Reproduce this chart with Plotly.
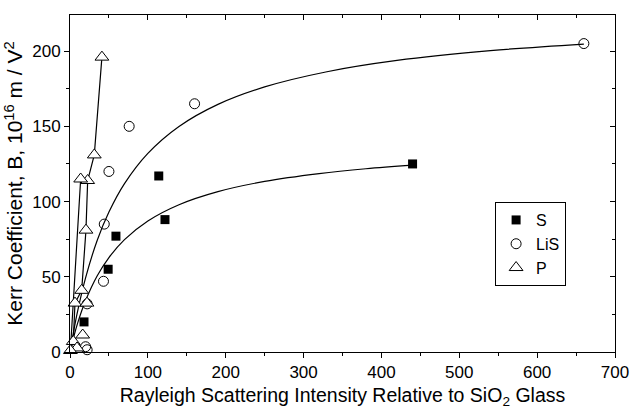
import plotly.graph_objects as go

# ---- data ----
S_x = [440, 114, 122, 59, 49, 18]
S_y = [125, 117, 88, 77, 55, 20]

LiS_x = [660, 160, 76, 50, 44, 43, 22, 20, 22]
LiS_y = [205, 165, 150, 120, 85, 47, 32, 3.5, 1.5]

P_x = [41, 31.2, 22.7, 13.7, 20.5, 15, 6.4, 21.8, 16.3, 4.2, 9, 0.5]
P_y = [196, 131, 114, 115, 81, 41, 32.5, 32.5, 11.3, 7, 2.7, 1]
# indices of P points joined by the connecting line
P_line_idx = [0, 1, 2, 4, 5, 6, 9, 11, 3]

# fitted saturation curves
S_fit_x = [0, 5, 10, 20, 35, 50, 70, 100, 140, 190, 250, 320, 380, 440]
S_fit_y = [0, 10.4, 19.5, 34.2, 50.7, 62.8, 74.7, 87.1, 97.9, 106.6, 113.4, 118.6, 121.8, 124.2]
LiS_fit_x = [0, 5, 10, 20, 35, 50, 70, 100, 140, 190, 250, 330, 420, 540, 660]
LiS_fit_y = [0, 14.7, 27.7, 49.3, 74.3, 93.0, 111.9, 132.0, 149.9, 164.6, 176.2, 186.3, 193.8, 200.3, 204.7]

x_ticks = [0, 100, 200, 300, 400, 500, 600, 700]
y_ticks = [0, 50, 100, 150, 200]

FONT = "Liberation Sans, Arial, sans-serif"
fig = go.Figure()

line_style = dict(color="black", width=1.2)
fig.add_trace(go.Scatter(x=S_fit_x, y=S_fit_y, mode="lines", line=dict(shape="spline", **line_style),
                         showlegend=False, hoverinfo="skip", cliponaxis=False))
fig.add_trace(go.Scatter(x=LiS_fit_x, y=LiS_fit_y, mode="lines", line=dict(shape="spline", **line_style),
                         showlegend=False, hoverinfo="skip", cliponaxis=False))
fig.add_trace(go.Scatter(x=[P_x[i] for i in P_line_idx], y=[P_y[i] for i in P_line_idx],
                         mode="lines", line=line_style, showlegend=False, cliponaxis=False))

fig.add_trace(go.Scatter(x=S_x, y=S_y, mode="markers", name="S", cliponaxis=False,
                         marker=dict(symbol="square", size=9, color="black", line=dict(width=0))))
fig.add_trace(go.Scatter(x=LiS_x, y=LiS_y, mode="markers", name="LiS", cliponaxis=False,
                         marker=dict(symbol="circle-open", size=10, color="black", line=dict(width=1))))
fig.add_trace(go.Scatter(x=P_x, y=P_y, mode="markers", name="P", cliponaxis=False,
                         marker=dict(symbol="triangle-up", size=12, color="white",
                                     line=dict(width=1, color="black"))))

axis_common = dict(showgrid=False, zeroline=False, showline=True, linecolor="black", linewidth=1,
                   ticks="outside", tickcolor="black", ticklen=5, tickwidth=1, automargin=False,
                   tickfont=dict(family=FONT, size=17, color="black"))

fig.update_layout(
    width=630, height=413,
    margin=dict(l=70, r=15, t=15, b=61),
    paper_bgcolor="white", plot_bgcolor="white",
    font=dict(family=FONT, color="black"),
    xaxis=dict(range=[0, 700], tickvals=x_ticks, ticktext=[str(v) for v in x_ticks],
               minor=dict(dtick=50, ticks="outside", ticklen=3, tickcolor="black"),
               title=dict(text="Rayleigh Scattering Intensity Relative to SiO<sub>2</sub> Glass",
                          font=dict(family=FONT, size=19.5), standoff=6),
               **axis_common),
    yaxis=dict(range=[0, 224], tickvals=y_ticks, ticktext=[str(v) for v in y_ticks],
               minor=dict(dtick=25, ticks="outside", ticklen=3, tickcolor="black"),
               title=dict(text="Kerr Coefficient, B, 10<sup>16</sup> m / V<sup>2</sup>",
                          font=dict(family=FONT, size=21), standoff=3),
               **axis_common),
    xaxis2=dict(overlaying="x", side="top", range=[0, 700], tickvals=x_ticks, showticklabels=False,
                showgrid=False, zeroline=False, showline=True, linecolor="black", automargin=False,
                ticks="inside", ticklen=5, tickcolor="black",
                minor=dict(dtick=50, ticks="inside", ticklen=3, tickcolor="black")),
    yaxis2=dict(overlaying="y", side="right", range=[0, 224], tickvals=y_ticks, showticklabels=False,
                showgrid=False, zeroline=False, showline=True, linecolor="black", automargin=False,
                ticks="inside", ticklen=5, tickcolor="black",
                minor=dict(dtick=25, ticks="inside", ticklen=3, tickcolor="black")),
    legend=dict(x=0.78, y=0.445, xanchor="left", yanchor="top",
                bordercolor="black", borderwidth=1, bgcolor="white",
                font=dict(family=FONT, size=16), tracegroupgap=0, itemwidth=30),
)
# dummy invisible trace to activate the mirror axes
fig.add_trace(go.Scatter(x=[None], y=[None], xaxis="x2", yaxis="y2", showlegend=False))

fig.write_html("out.html")
